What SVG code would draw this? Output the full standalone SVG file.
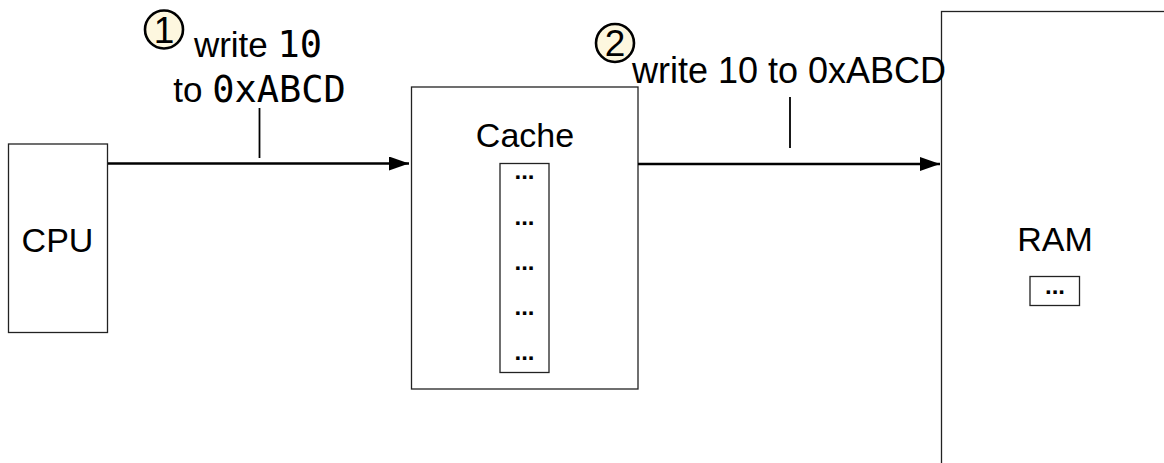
<svg xmlns="http://www.w3.org/2000/svg" width="1164" height="463" viewBox="0 0 1164 463">
<defs>
<style>
.box{fill:#fff;stroke:#222;stroke-width:1.3}
.lbl{font-family:"Liberation Sans",Arial,sans-serif;fill:#000}
.node{font-size:34px;text-anchor:middle}
.mono{font-family:"DejaVu Sans Mono",monospace;font-size:37px}
.dots{font-family:"Liberation Sans",Arial,sans-serif;font-size:24px;font-weight:bold;text-anchor:middle;fill:#000}
.conn{stroke:#000;stroke-width:2.6;fill:none}
.tick{stroke:#000;stroke-width:1.8}
.step{fill:#fdf7df;stroke:#000;stroke-width:2.6}
.num{font-family:"Liberation Sans",Arial,sans-serif;font-size:37px;text-anchor:middle;fill:#000}
</style>
<marker id="arr" viewBox="0 0 20 14" refX="20" refY="7" markerWidth="20" markerHeight="14" markerUnits="userSpaceOnUse" orient="auto">
<path d="M0,0 L20,7 L0,14 Z" fill="#000"/>
</marker>
</defs>
<rect width="1164" height="463" fill="#fff"/>
<g id="cpu">
<rect class="box" x="8.5" y="144" width="99" height="188.5"/>
<text class="lbl node" x="57.5" y="252">CPU</text>
</g>
<g id="cache">
<rect class="box" x="411.5" y="87" width="226.5" height="302"/>
<text class="lbl node" x="525" y="147">Cache</text>
<rect class="box" x="500" y="163.5" width="49" height="209"/>
<text class="dots" x="524.5" y="178.5">...</text>
<text class="dots" x="524.5" y="224.5">...</text>
<text class="dots" x="524.5" y="270">...</text>
<text class="dots" x="524.5" y="315">...</text>
<text class="dots" x="524.5" y="360">...</text>
</g>
<g id="ram">
<rect class="box" x="941.5" y="11.5" width="300" height="500"/>
<text class="lbl node" x="1055" y="251">RAM</text>
<rect class="box" x="1030" y="276.5" width="49.5" height="29"/>
<text class="dots" x="1055" y="293.5">...</text>
</g>
<g id="connectors">
<line class="conn" x1="108" y1="163.5" x2="409" y2="163.5" marker-end="url(#arr)"/>
<line class="tick" x1="259.5" y1="108" x2="259.5" y2="158"/>
<line class="conn" x1="638" y1="164" x2="940" y2="164" marker-end="url(#arr)"/>
<line class="tick" x1="790" y1="97" x2="790" y2="148"/>
</g>
<g id="label1">
<circle class="step" cx="164" cy="29.5" r="19"/>
<text class="num" x="164" y="42.5">1</text>
<text class="lbl" x="258" y="57" text-anchor="middle" font-size="35"><tspan>write </tspan><tspan class="mono">10</tspan></text>
<text class="lbl" x="259.5" y="102" text-anchor="middle" font-size="35"><tspan>to </tspan><tspan class="mono">0xABCD</tspan></text>
</g>
<g id="label2">
<circle class="step" cx="615" cy="43" r="19"/>
<text class="num" x="615" y="56">2</text>
<text class="lbl" x="789" y="83" text-anchor="middle" font-size="36">write 10 to 0xABCD</text>
</g>
</svg>
